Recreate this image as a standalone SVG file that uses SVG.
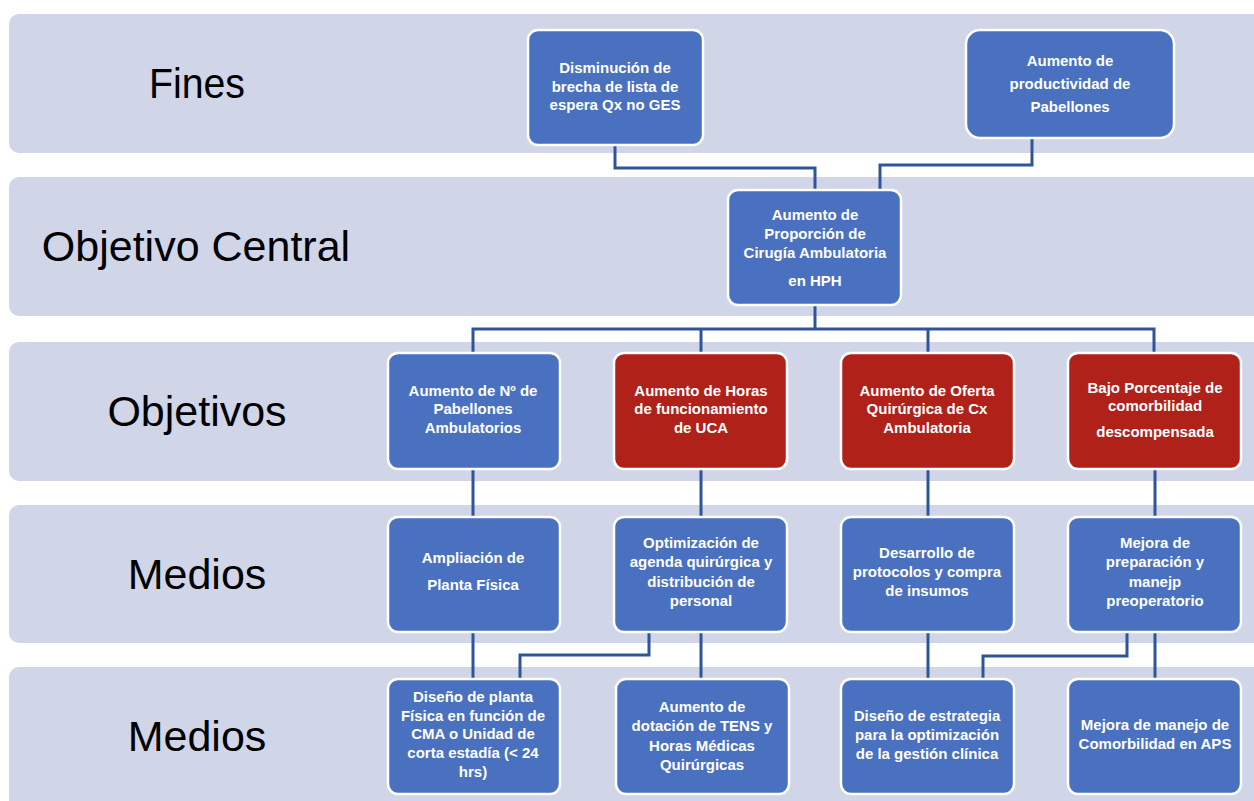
<svg xmlns="http://www.w3.org/2000/svg" width="1254" height="801" viewBox="0 0 1254 801">
<defs>
<style>
.band{fill:#d0d5e8}
.lbl{font-family:"Liberation Sans",Arial,sans-serif;font-size:43px;fill:#000;text-anchor:middle}
.nb{fill:#4a70c0;stroke:#fff;stroke-width:2.5}
.nr{fill:#b0211a;stroke:#fff;stroke-width:2.5}
.t{font-family:"Liberation Sans",Arial,sans-serif;font-size:15px;font-weight:bold;fill:#fff;text-anchor:middle}
.c{fill:none;stroke:#2e5597;stroke-width:3}
</style>
</defs>
<rect width="1254" height="801" fill="#fff"/>
<g id="bands">
<rect class="band" x="9" y="14" width="1260" height="139" rx="10"/>
<rect class="band" x="9" y="177" width="1260" height="139" rx="10"/>
<rect class="band" x="9" y="342" width="1260" height="139" rx="10"/>
<rect class="band" x="9" y="505" width="1260" height="138" rx="10"/>
<rect class="band" x="9" y="667" width="1260" height="150" rx="10"/>
<text class="lbl" x="197" y="98" textLength="96" lengthAdjust="spacingAndGlyphs">Fines</text>
<text class="lbl" x="196" y="261">Objetivo Central</text>
<text class="lbl" x="197" y="426">Objetivos</text>
<text class="lbl" x="197" y="589">Medios</text>
<text class="lbl" x="197" y="751">Medios</text>
</g>
<g id="connectors">
<polyline class="c" points="615,145 615,168 815,168 815,190"/>
<polyline class="c" points="1032,138 1032,165 880,165 880,190"/>
<polyline class="c" points="815,305 815,329"/>
<polyline class="c" points="473,353 473,329 1154,329 1154,353"/>
<polyline class="c" points="701,329 701,353"/>
<polyline class="c" points="928,329 928,353"/>
<polyline class="c" points="473,469 473,517"/>
<polyline class="c" points="701,469 701,517"/>
<polyline class="c" points="928,469 928,517"/>
<polyline class="c" points="1155,469 1155,517"/>
<polyline class="c" points="473,632 473,679"/>
<polyline class="c" points="649,632 649,655 520,655 520,679"/>
<polyline class="c" points="701,632 701,679"/>
<polyline class="c" points="928,632 928,679"/>
<polyline class="c" points="1127,632 1127,656 983,656 983,679"/>
<polyline class="c" points="1155,632 1155,679"/>
</g>
<g id="fin1"><rect class="nb" x="528" y="30" width="175" height="115" rx="10"/>
<text class="t" x="615" y="72.5">Disminución de</text><text class="t" x="615" y="91.5">brecha de lista de</text><text class="t" x="615" y="110">espera Qx no GES</text></g>
<g id="fin2"><rect class="nb" x="966" y="30" width="208" height="108" rx="14"/>
<text class="t" x="1070" y="66">Aumento de</text><text class="t" x="1070" y="89">productividad de</text><text class="t" x="1070" y="112">Pabellones</text></g>
<g id="central"><rect class="nb" x="728" y="190" width="173" height="115" rx="10"/>
<text class="t" x="815" y="220">Aumento de</text><text class="t" x="815" y="239">Proporción de</text><text class="t" x="815" y="258">Cirugía Ambulatoria</text><text class="t" x="815" y="286">en HPH</text></g>
<g id="obj1"><rect class="nb" x="388" y="353" width="172" height="116" rx="10"/>
<text class="t" x="473" y="396">Aumento de Nº de</text><text class="t" x="473" y="414">Pabellones</text><text class="t" x="473" y="433">Ambulatorios</text></g>
<g id="obj2"><rect class="nr" x="614" y="353" width="173" height="116" rx="10"/>
<text class="t" x="701" y="396">Aumento de Horas</text><text class="t" x="701" y="414">de funcionamiento</text><text class="t" x="701" y="433">de UCA</text></g>
<g id="obj3"><rect class="nr" x="841" y="353" width="173" height="116" rx="10"/>
<text class="t" x="927" y="396">Aumento de Oferta</text><text class="t" x="927" y="414">Quirúrgica de Cx</text><text class="t" x="927" y="433">Ambulatoria</text></g>
<g id="obj4"><rect class="nr" x="1068" y="353" width="173" height="116" rx="10"/>
<text class="t" x="1155" y="393">Bajo Porcentaje de</text><text class="t" x="1155" y="411">comorbilidad</text><text class="t" x="1155" y="437">descompensada</text></g>
<g id="med1"><rect class="nb" x="388" y="517" width="172" height="115" rx="10"/>
<text class="t" x="473" y="563">Ampliación de</text><text class="t" x="473" y="590">Planta Física</text></g>
<g id="med2"><rect class="nb" x="614" y="517" width="173" height="115" rx="10"/>
<text class="t" x="701" y="548">Optimización de</text><text class="t" x="701" y="567">agenda quirúrgica y</text><text class="t" x="701" y="587">distribución de</text><text class="t" x="701" y="606">personal</text></g>
<g id="med3"><rect class="nb" x="841" y="517" width="173" height="115" rx="10"/>
<text class="t" x="927" y="558">Desarrollo de</text><text class="t" x="927" y="577">protocolos y compra</text><text class="t" x="927" y="596">de insumos</text></g>
<g id="med4"><rect class="nb" x="1068" y="517" width="173" height="115" rx="10"/>
<text class="t" x="1155" y="548">Mejora de</text><text class="t" x="1155" y="567">preparación y</text><text class="t" x="1155" y="587">manejp</text><text class="t" x="1155" y="606">preoperatorio</text></g>
<g id="bot1"><rect class="nb" x="388" y="679" width="172" height="115" rx="10"/>
<text class="t" x="473" y="702">Diseño de planta</text><text class="t" x="473" y="720.7">Física en función de</text><text class="t" x="473" y="739.4">CMA o Unidad de</text><text class="t" x="473" y="758">corta estadía (&lt; 24</text><text class="t" x="473" y="777">hrs)</text></g>
<g id="bot2"><rect class="nb" x="616" y="679" width="173" height="115" rx="10"/>
<text class="t" x="702" y="712">Aumento de</text><text class="t" x="702" y="731">dotación de TENS y</text><text class="t" x="702" y="751">Horas Médicas</text><text class="t" x="702" y="770">Quirúrgicas</text></g>
<g id="bot3"><rect class="nb" x="841" y="679" width="173" height="115" rx="10"/>
<text class="t" x="927" y="721">Diseño de estrategia</text><text class="t" x="927" y="740">para la optimización</text><text class="t" x="927" y="759">de la gestión clínica</text></g>
<g id="bot4"><rect class="nb" x="1068" y="679" width="173" height="115" rx="10"/>
<text class="t" x="1155" y="730">Mejora de manejo de</text><text class="t" x="1155" y="749">Comorbilidad en APS</text></g>
</svg>
